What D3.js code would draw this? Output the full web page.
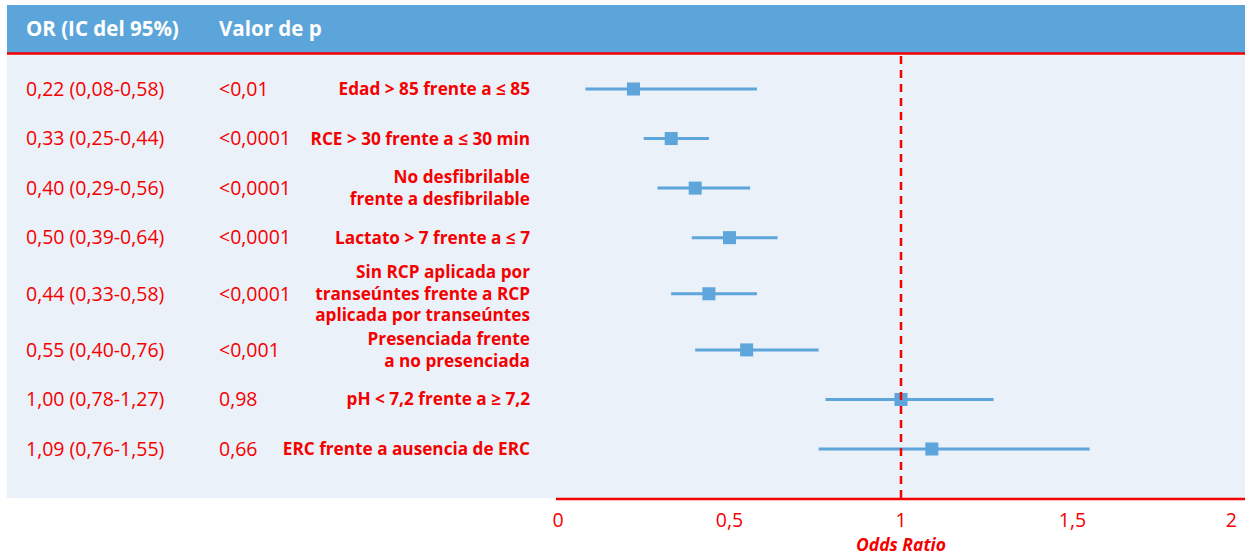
<!DOCTYPE html>
<html>
<head>
<meta charset="utf-8">
<script src="https://cdn.jsdelivr.net/npm/d3@7"></script>
<style>
  body { margin: 0; background: #fff; }
  svg { display: block; font-family: "Open Sans", "Noto Sans", sans-serif; }
</style>
</head>
<body>
<div id="chart"></div>
<script>
// Data
var orLabels = ["0,22 (0,08-0,58)", "0,33 (0,25-0,44)", "0,40 (0,29-0,56)", "0,50 (0,39-0,64)",
                "0,44 (0,33-0,58)", "0,55 (0,40-0,76)", "1,00 (0,78-1,27)", "1,09 (0,76-1,55)"];
var pLabels = ["<0,01", "<0,0001", "<0,0001", "<0,0001", "<0,0001", "<0,001", "0,98", "0,66"];
var factors = [
	["Edad > 85 frente a ≤ 85"],
	["RCE > 30 frente a ≤ 30 min"],
	["No desfibrilable", "frente a desfibrilable"],
	["Lactato > 7 frente a ≤ 7"],
	["Sin RCP aplicada por", "transeúntes frente a RCP", "aplicada por transeúntes"],
	["Presenciada frente", "a no presenciada"],
	["pH < 7,2 frente a ≥ 7,2"],
	["ERC frente a ausencia de ERC"]
];
var oddsRatio = [0.22, 0.33, 0.40, 0.50, 0.44, 0.55, 1.00, 1.09];
var ciLow = [0.08, 0.25, 0.29, 0.39, 0.33, 0.40, 0.78, 0.76];
var ciHigh = [0.58, 0.44, 0.56, 0.64, 0.58, 0.76, 1.27, 1.55];
var xTicks = [0, 0.5, 1, 1.5, 2];
var headers = ["OR (IC del 95%)", "Valor de p"];

var W = 1250, H = 556;
var red = "#f50000", blue = "#5da5da";

var svg = d3.select("#chart").append("svg")
	.attr("width", W)
	.attr("height", H);

// panel + header
svg.append("rect").attr("x", 7).attr("y", 5).attr("width", 1238).attr("height", 493).attr("fill", "#eaf1f9");
svg.append("rect").attr("x", 7).attr("y", 5).attr("width", 1238).attr("height", 48).attr("fill", "#5ca5da");
svg.append("line").attr("x1", 7).attr("x2", 1245).attr("y1", 53.5).attr("y2", 53.5)
	.attr("stroke", red).attr("stroke-width", 2.5);

svg.selectAll("text.head").data(headers).enter().append("text")
	.attr("class", "head")
	.attr("x", function(d, i) { return [26, 219][i]; })
	.attr("y", 36)
	.attr("fill", "#fff")
	.attr("font-weight", "bold")
	.attr("font-size", 20.5)
	.text(function(d) { return d; });

// row positions: taller slots for 3-line labels
var slots = factors.map(function(f) { return f.length > 2 ? 62 : 49; });
var centers = [];
var acc = 0;
slots.forEach(function(s) { centers.push(acc + s / 2); acc += s; });
var y = d3.scaleLinear().domain([centers[0], centers[centers.length - 1]]).range([89, 449]);

var x = d3.scaleLinear().domain([0, 2]).range([558, 1244]);

var rows = svg.selectAll("g.row").data(oddsRatio).enter().append("g")
	.attr("class", "row")
	.attr("transform", function(d, i) { return "translate(0," + y(centers[i]) + ")"; });

rows.append("text")
	.attr("x", 26).attr("dy", "0.35em")
	.attr("fill", red).attr("font-size", 19.5)
	.text(function(d, i) { return orLabels[i]; });

rows.append("text")
	.attr("x", 219).attr("dy", "0.35em")
	.attr("fill", red).attr("font-size", 19.5)
	.text(function(d, i) { return pLabels[i]; });

// factor labels, one text per line
rows.each(function(d, i) {
	var lines = factors[i];
	var lh = 21.5;
	d3.select(this).selectAll("text.factor").data(lines).enter().append("text")
		.attr("class", "factor")
		.attr("x", 530)
		.attr("y", function(l, j) { return (j - (lines.length - 1) / 2) * lh; })
		.attr("dy", "0.35em")
		.attr("text-anchor", "end")
		.attr("fill", red).attr("font-size", 17.2).attr("font-weight", "bold")
		.text(function(l) { return l; });
});

// reference line at OR = 1
svg.append("line")
	.attr("x1", x(1)).attr("x2", x(1))
	.attr("y1", 56).attr("y2", 498)
	.attr("stroke", red).attr("stroke-width", 2.5)
	.attr("stroke-dasharray", "8,6");

// CI lines and markers
rows.append("line")
	.attr("x1", function(d, i) { return x(ciLow[i]); })
	.attr("x2", function(d, i) { return x(ciHigh[i]); })
	.attr("stroke", blue).attr("stroke-width", 3);

rows.append("rect")
	.attr("x", function(d) { return x(d) - 6.5; })
	.attr("y", -6.5)
	.attr("width", 13).attr("height", 13)
	.attr("fill", blue);

// x axis
var axis = svg.append("g").attr("transform", "translate(0,499)");
axis.append("line").attr("x1", 556).attr("x2", 1245)
	.attr("stroke", red).attr("stroke-width", 2.5);

axis.selectAll("text.tick").data(xTicks).enter().append("text")
	.attr("class", "tick")
	.attr("x", function(d, i) { return i === xTicks.length - 1 ? x(d) - 7 : x(d); })
	.attr("y", 28)
	.attr("text-anchor", function(d, i) { return i === xTicks.length - 1 ? "end" : "middle"; })
	.attr("fill", red).attr("font-size", 19.5)
	.text(function(d) { return String(d).replace(".", ","); });

axis.append("text")
	.attr("x", x(1)).attr("y", 52)
	.attr("text-anchor", "middle")
	.attr("fill", red).attr("font-size", 17.5)
	.attr("font-weight", "bold").attr("font-style", "italic")
	.text("Odds Ratio");
</script>
</body>
</html>
